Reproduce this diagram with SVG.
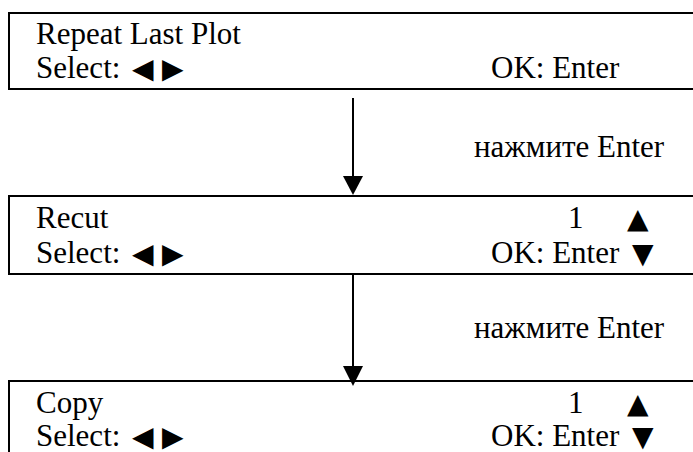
<svg xmlns="http://www.w3.org/2000/svg" width="693" height="452" viewBox="0 0 693 452">
<defs>
<style>
.box{fill:#fff;stroke:#000;stroke-width:2}
.t{font-family:"Liberation Serif","Times New Roman",serif;font-size:31px;fill:#000}
.s{font-family:"DejaVu Sans",sans-serif;font-size:28px;fill:#000}
.c{stroke:#000;stroke-width:2;fill:none}
.h{fill:#000}
</style>
</defs>
<rect width="693" height="452" fill="#fff"/>
<g id="node1">
<rect class="box" x="9" y="13" width="700" height="76"/>
<text class="t" x="36" y="44">Repeat Last Plot</text>
<text class="t" x="36" y="78">Select:</text>
<text class="s" x="132" y="78">◀</text>
<text class="s" x="162" y="78">▶</text>
<text class="t" x="491" y="78">OK: Enter</text>
</g>
<g id="node2">
<rect class="box" x="9" y="196" width="700" height="78"/>
<text class="t" x="36" y="228">Recut</text>
<text class="t" x="568" y="228">1</text>
<text class="s" x="627" y="228">▲</text>
<text class="t" x="36" y="263">Select:</text>
<text class="s" x="132" y="263">◀</text>
<text class="s" x="162" y="263">▶</text>
<text class="t" x="491" y="263">OK: Enter</text>
<text class="s" x="632" y="263">▼</text>
</g>
<g id="node3">
<rect class="box" x="9" y="381" width="700" height="90"/>
<text class="t" x="36" y="413">Copy</text>
<text class="t" x="568" y="413">1</text>
<text class="s" x="627" y="413">▲</text>
<text class="t" x="36" y="446">Select:</text>
<text class="s" x="132" y="446">◀</text>
<text class="s" x="162" y="446">▶</text>
<text class="t" x="491" y="446">OK: Enter</text>
<text class="s" x="632" y="446">▼</text>
</g>
<g id="connectors">
<line class="c" x1="353" y1="98" x2="353" y2="177"/>
<polygon class="h" points="343,176 363,176 353,195"/>
<text class="t" x="474" y="157">нажмите Enter</text>
<line class="c" x1="353" y1="274" x2="353" y2="367"/>
<polygon class="h" points="343,366 363,366 353,386"/>
<text class="t" x="474" y="338">нажмите Enter</text>
</g>
</svg>
